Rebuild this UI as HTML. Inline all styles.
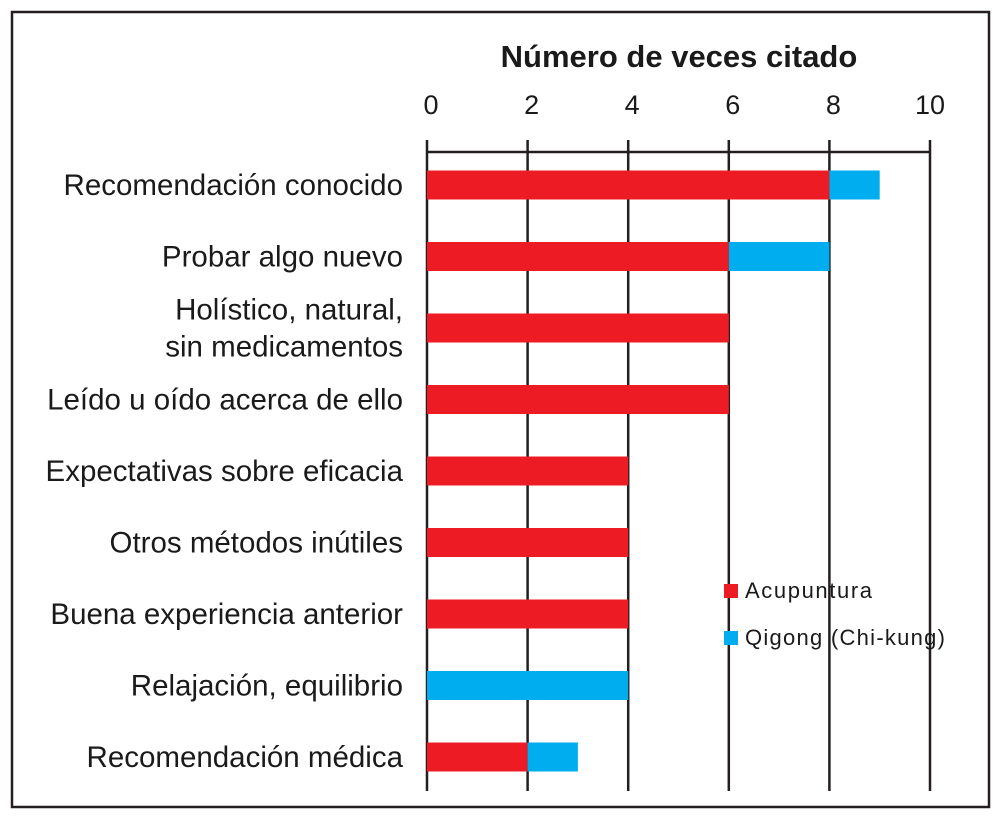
<!DOCTYPE html>
<html><head><meta charset="utf-8"><style>
body{margin:0;background:#fff;}
svg text{font-family:"Liberation Sans",sans-serif;fill:#1a1a1a;}
</style></head><body>
<svg width="1004" height="820" xmlns="http://www.w3.org/2000/svg">
<rect x="12" y="12" width="977" height="795" fill="#fff" stroke="#231f20" stroke-width="2.5"/>
<text x="679" y="67" font-size="31" font-weight="bold" text-anchor="middle">Número de veces citado</text>
<g id="grid"></g><g id="bars"></g><g id="labels"></g>
<g>
<rect x="724" y="584" width="14" height="14" fill="#ed1c24"/>
<text x="745" y="598" font-size="22" textLength="127">Acupuntura</text>
<rect x="724" y="631" width="14" height="14" fill="#00aeef"/>
<text x="745" y="645" font-size="22" textLength="200">Qigong (Chi-kung)</text>
</g>
</svg>
<script>
const categories=[["Recomendación conocido"],["Probar algo nuevo"],["Holístico, natural,","sin medicamentos"],["Leído u oído acerca de ello"],["Expectativas sobre eficacia"],["Otros métodos inútiles"],["Buena experiencia anterior"],["Relajación, equilibrio"],["Recomendación médica"]];
const acupuntura=[8,6,6,6,4,4,4,0,2];
const qigong=[1,2,0,0,0,0,0,4,1];
const ticks=[0,2,4,6,8,10];
const NS="http://www.w3.org/2000/svg";
const x=v=>427+v*50.3;
const y=i=>185+i*71.5;
function mk(t,a,p){const e=document.createElementNS(NS,t);for(const k in a)e.setAttribute(k,a[k]);p.appendChild(e);return e;}
const grid=document.getElementById('grid'),bars=document.getElementById('bars'),labels=document.getElementById('labels');
const ax=mk('line',{x1:x(0),x2:x(10),y1:152,y2:152,stroke:'#231f20','stroke-width':2.5},grid);


ticks.forEach(t=>{
 const l=mk('line',{x1:x(t),x2:x(t),y1:140,y2:791,stroke:'#231f20','stroke-width':2.5},grid);
 
 
 const tx=mk('text',{x:x(t)+(t==10?0:4),y:114,'font-size':27,'text-anchor':'middle'},grid);
 tx.textContent=t;
 
 
});
categories.forEach((c,i)=>{
 const cy=y(i);
 if(acupuntura[i]>0){const r=mk('rect',{x:x(0),y:cy-14.5,width:x(acupuntura[i])-x(0),height:29,fill:'#ed1c24'},bars);
 
 }
 if(qigong[i]>0){const r=mk('rect',{x:x(acupuntura[i]),y:cy-14.5,width:x(qigong[i])-x(0),height:29,fill:'#00aeef'},bars);
 
 }
 const n=c.length;
 c.forEach((s,j)=>{
  const t=mk('text',{x:403,y:cy+10+(j-(n-1)/2)*37,'font-size':29.5,'text-anchor':'end'},labels);
  t.textContent=s;
  
  
 });
});
</script>
</body></html>
